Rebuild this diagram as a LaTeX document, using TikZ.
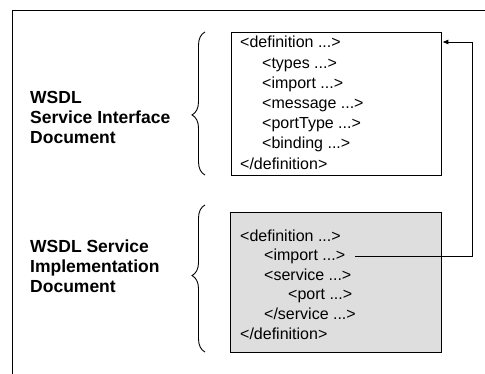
\documentclass[tikz,border=0pt]{standalone}
\usepackage{fontspec}
\setmainfont{Liberation Sans}
\usetikzlibrary{decorations.pathreplacing,arrows.meta}

\begin{document}
\begin{tikzpicture}[x=1pt,y=-1pt,
  code/.style={anchor=base west, inner sep=0pt, font=\fontsize{16}{20}\selectfont},
  lbl/.style={anchor=west, align=left, inner sep=0pt, font=\fontsize{17.5}{20}\selectfont\bfseries},
  doc/.style={draw, line width=1.3pt, inner sep=0pt, anchor=north west},
  curly/.style={decorate, line width=0.9pt},
  link/.style={line width=0.9pt}]
\useasboundingbox (0,0) rectangle (485,374);

% page frame (top and left rules only)
\draw[line width=0.8pt] (12,374) -- (12,10) -- (485,10);

% the two WSDL documents
\node[doc, minimum width=210pt, minimum height=143pt] (intf) at (231,32) {};
\node[doc, fill=black!13, minimum width=211pt, minimum height=140pt] (impl) at (230,212) {};

% service interface document
\node[code] (tdef)  at (240,48)    {<definition ...>};
\node[code] (ttyp)  at (262,68.2)  {<types ...>};
\node[code] (timp)  at (262,88.4)  {<import ...>};
\node[code] (tmsg)  at (262,108.6) {<message ...>};
\node[code] (tpt)   at (262,128.8) {<portType ...>};
\node[code] (tbind) at (262,149)   {<binding ...>};
\node[code] (tend)  at (240,169.2) {</definition>};

% service implementation document
\node[code] (bdef)  at (240,241.5) {<definition ...>};
\node[code] (bimp)  at (264,261)   {<import ...>};
\node[code] (bsvc)  at (264,280.5) {<service ...>};
\node[code] (bport) at (288,300)   {<port ...>};
\node[code] (bsve)  at (264,319.5) {</service ...>};
\node[code] (bend)  at (240,339)   {</definition>};

% labels and braces
\node[lbl] (ilab) at (30,117) {WSDL\\Service Interface\\Document};
\node[lbl] (blab) at (30,266) {WSDL Service\\Implementation\\Document};
\draw[curly, decoration={brace, amplitude=13pt, aspect=0.42}] (205,175) -- (205,32);
\draw[curly, decoration={brace, amplitude=13pt, aspect=0.52}] (205,352) -- (205,205);

% import reference back to the interface document
\coordinate (ret) at (472,42);
\draw[link, -{Latex[length=6pt,width=5pt]}] ([xshift=10pt]bimp.east) -| (ret) -- (intf.east |- ret);
\end{tikzpicture}
\end{document}
